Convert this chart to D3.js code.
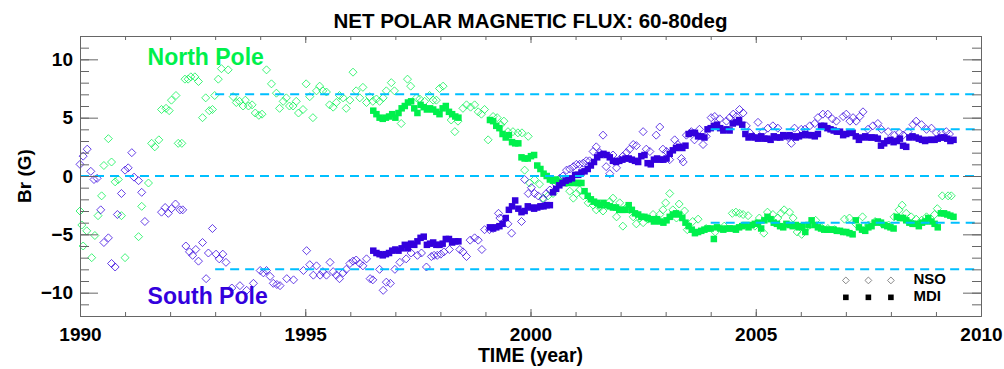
<!DOCTYPE html>
<html>
<head>
<meta charset="utf-8">
<script src="https://cdn.jsdelivr.net/npm/d3@7"></script>
<style>
  body { margin: 0; background: #fff; }
  svg text { font-family: "Liberation Sans", Arial, Helvetica, sans-serif; font-weight: bold; }
</style>
</head>
<body>
<div id="chart"></div>
<script>
// NSO (open diamonds): [year, Br]
const nsoNorth = [
  [1990.00,-3.0],[1990.04,-4.2],[1990.07,-6.0],[1990.15,-4.7],[1990.26,-7.0],[1990.33,-5.1],[1990.40,-3.4],[1990.48,-1.7],[1990.53,0.9],[1990.63,3.2],[1990.70,1.2],[1990.78,-0.5],[1990.85,-0.3],[1990.92,-3.4],
  [1991.00,-7.0],[1991.30,-5.2],[1991.37,-2.6],[1991.52,-0.6],[1991.59,2.8],[1991.66,2.5],[1991.75,3.1],[1991.81,5.7],[1991.91,5.8],[1991.98,5.6],
  [1992.03,6.5],[1992.13,6.9],[1992.18,2.8],[1992.26,2.8],[1992.33,8.3],[1992.40,8.3],[1992.46,8.5],[1992.55,8.5],[1992.63,8.1],[1992.72,5.0],[1992.79,6.7],[1992.87,5.6],[1992.94,5.7],[1992.99,6.9],
  [1993.07,8.3],[1993.14,9.2],[1993.29,9.1],[1993.40,6.8],[1993.47,6.3],[1993.54,6.4],[1993.62,6.0],[1993.67,6.5],[1993.74,6.0],[1993.82,6.1],[1993.89,5.4],[1993.97,5.2],
  [1994.04,5.3],[1994.14,9.1],[1994.25,7.9],[1994.36,7.1],[1994.43,5.8],[1994.51,6.4],[1994.58,6.7],[1994.65,6.0],[1994.73,6.0],[1994.80,6.4],[1994.85,5.4],[1994.95,5.7],
  [1995.02,7.9],[1995.10,6.8],[1995.17,5.0],[1995.25,7.3],[1995.32,7.7],[1995.39,7.3],[1995.47,7.2],[1995.54,6.1],[1995.62,5.9],[1995.69,6.3],[1995.76,6.9],[1995.84,6.7],[1995.91,5.8],[1995.99,6.5],
  [1996.06,8.9],[1996.13,7.3],[1996.21,6.7],[1996.28,7.6],[1996.36,6.3],[1996.43,6.8],[1996.50,6.4],[1996.58,6.6],[1996.65,6.4],[1996.73,6.7],[1996.80,7.3],[1996.91,8.0],[1996.98,7.3],
  [1997.13,4.5],[1997.27,8.3],[1997.34,7.7],[1997.47,6.7],[1997.54,6.6],[1997.65,6.4],[1997.76,6.9],[1997.84,6.5],[1997.91,6.5],[1997.98,7.5],
  [1998.06,7.7],[1998.24,4.8],[1998.32,3.8],[1998.39,4.7],[1998.50,5.8],[1998.58,6.1],[1998.67,5.9],[1998.76,6.1],[1998.84,5.5],[1998.91,5.3],[1998.98,5.7],
  [1999.06,3.1],[1999.17,5.1],[1999.26,5.0],[1999.34,4.4],[1999.41,4.7],[1999.50,3.8],[1999.61,3.8],[1999.72,3.7],[1999.81,3.7],[1999.87,0.5],[1999.95,3.4],[1999.98,-0.6],
  [2000.09,-0.3],[2000.20,-0.7],[2000.28,-1.9],[2000.39,-1.7],[2000.50,-1.5],[2000.61,-0.6],[2000.72,-0.3],[2000.80,-0.6],[2000.87,-1.3],[2000.95,-1.9],
  [2001.02,-1.5],[2001.09,-1.2],[2001.17,-1.7],[2001.28,-2.3],[2001.39,-2.5],[2001.46,-2.9],[2001.54,-2.7],[2001.61,-3.0],[2001.76,-2.2],[2001.83,-1.9],[2001.91,-3.5],[2001.98,-2.3],
  [2002.05,-4.3],[2002.13,-2.7],[2002.20,-2.9],[2002.28,-3.5],[2002.35,-4.1],[2002.42,-3.6],[2002.50,-4.0],[2002.61,-3.7],[2002.72,-3.3],[2002.79,-3.7],[2002.87,-3.3],[2002.94,-2.9],
  [2003.00,-2.3],[2003.09,-1.5],[2003.16,-2.9],[2003.24,-3.6],[2003.30,-2.4],[2003.42,-3.0],[2003.48,-4.6],[2003.60,-3.9],[2003.72,-3.7],[2003.90,-4.5],
  [2004.10,-4.8],[2004.30,-4.3],[2004.48,-3.2],[2004.56,-3.1],[2004.64,-3.2],[2004.72,-3.3],[2004.83,-3.4],[2004.98,-4.3],
  [2005.08,-3.6],[2005.18,-4.9],[2005.26,-3.1],[2005.38,-3.3],[2005.49,-3.6],[2005.56,-3.2],[2005.63,-2.9],[2005.75,-3.1],[2005.83,-3.6],[2005.92,-4.8],
  [2006.02,-5.0],[2006.09,-4.6],[2006.20,-4.2],[2006.33,-3.8],[2006.45,-4.4],[2006.60,-4.5],[2006.75,-4.6],[2006.97,-3.7],
  [2007.08,-3.6],[2007.22,-4.1],[2007.37,-3.5],[2007.50,-4.2],[2007.65,-3.9],[2007.80,-4.1],[2007.95,-4.2],
  [2008.07,-3.5],[2008.18,-2.9],[2008.25,-2.5],[2008.34,-3.2],[2008.45,-3.5],[2008.56,-3.7],[2008.68,-3.8],[2008.79,-3.5],[2008.97,-3.3],
  [2009.03,-2.8],[2009.14,-1.7],[2009.27,-1.7],[2009.34,-1.7]
];

const nsoSouth = [
  [1990.00,1.0],[1990.07,1.7],[1990.16,2.3],[1990.24,0.4],[1990.31,-0.3],[1990.38,-0.2],[1990.46,-2.9],[1990.53,-5.7],[1990.63,-5.3],[1990.70,-7.5],[1990.78,-7.8],[1990.83,-3.3],[1990.92,-1.5],
  [1991.00,0.5],[1991.07,0.7],[1991.15,2.0],[1991.20,-0.1],[1991.30,-0.4],[1991.37,-1.4],[1991.44,-3.9],[1991.81,-3.1],[1991.89,-2.7],[1991.96,-3.2],
  [1992.03,-2.8],[1992.12,-2.4],[1992.22,-2.9],[1992.28,-2.9],[1992.35,-6.0],[1992.43,-6.5],[1992.50,-6.8],[1992.57,-6.3],[1992.63,-7.3],[1992.72,-5.7],[1992.80,-8.8],[1992.85,-6.6],[1992.94,-4.5],
  [1993.02,-6.7],[1993.09,-7.1],[1993.17,-6.7],[1993.24,-7.4],[1993.37,-9.6],[1993.55,-9.4],[1993.70,-9.8],[1993.85,-9.2],
  [1994.00,-8.1],[1994.07,-8.3],[1994.14,-8.1],[1994.22,-8.6],[1994.29,-9.2],[1994.37,-9.3],[1994.44,-9.4],[1994.59,-8.8],[1994.74,-8.9],[1994.96,-8.1],
  [1995.03,-6.4],[1995.10,-7.6],[1995.18,-8.5],[1995.25,-7.7],[1995.33,-8.5],[1995.39,-8.2],[1995.47,-8.5],[1995.55,-7.4],[1995.62,-8.2],[1995.69,-8.5],[1995.76,-8.8],[1995.84,-8.3],[1995.91,-8.0],[1995.99,-7.5],
  [1996.06,-7.3],[1996.13,-7.2],[1996.21,-7.5],[1996.28,-7.7],[1996.36,-7.1],[1996.44,-8.8],[1996.50,-8.9],[1996.65,-8.0],[1996.73,-9.8],[1996.80,-9.1],[1996.89,-9.2],[1996.99,-8.0],
  [1997.10,-7.4],[1997.24,-7.1],[1997.35,-6.6],[1997.49,-6.8],[1997.58,-6.6],[1997.69,-7.8],[1997.80,-6.9],[1997.86,-6.8],[1997.93,-6.8],
  [1998.01,-6.7],[1998.08,-6.5],[1998.20,-6.3],[1998.43,-6.3],[1998.50,-6.5],[1998.58,-6.9],[1998.66,-5.5],[1998.76,-5.3],[1998.84,-5.5],[1998.92,-6.3],[1998.98,-4.6],
  [1999.09,-4.6],[1999.17,-4.5],[1999.29,-3.2],[1999.32,-3.6],[1999.50,-4.1],[1999.58,-4.9],[1999.80,-3.9],[1999.87,-0.3],[1999.95,-1.5],
  [2000.02,-1.0],[2000.09,-1.5],[2000.17,-1.7],[2000.28,-2.0],[2000.35,-1.5],[2000.43,-1.2],[2000.54,-0.6],[2000.65,-0.2],[2000.72,0.0],[2000.80,0.5],[2000.87,0.6],[2000.95,0.8],
  [2001.02,1.0],[2001.09,1.0],[2001.17,1.1],[2001.24,1.3],[2001.31,1.3],[2001.39,2.1],[2001.46,2.5],[2001.54,2.0],[2001.61,3.5],[2001.68,0.8],[2001.76,0.2],[2001.83,1.8],[2001.91,0.7],[2001.98,1.4],
  [2002.05,1.7],[2002.13,2.0],[2002.20,2.3],[2002.28,2.7],[2002.35,2.6],[2002.50,3.8],[2002.57,2.3],[2002.65,2.1],[2002.79,3.5],[2002.87,4.2],[2002.94,2.3],
  [2003.02,2.1],[2003.09,1.4],[2003.20,3.1],[2003.27,2.7],[2003.35,1.5],[2003.39,1.2],[2003.46,3.5],[2003.57,3.8],[2003.64,3.1],[2003.75,4.0],[2003.83,2.7],[2003.90,3.4],
  [2004.01,5.0],[2004.09,5.1],[2004.20,4.9],[2004.35,4.7],[2004.42,5.0],[2004.50,5.3],[2004.57,5.1],[2004.64,5.7],[2004.72,5.4],[2004.79,4.3],[2004.87,3.7],[2004.94,3.4],
  [2005.05,4.6],[2005.16,3.8],[2005.27,4.1],[2005.38,4.3],[2005.49,4.1],[2005.61,3.4],[2005.72,3.3],[2005.79,2.8],[2005.86,4.1],
  [2006.01,4.0],[2006.09,4.0],[2006.20,4.3],[2006.31,4.5],[2006.38,5.0],[2006.49,5.3],[2006.60,5.3],[2006.70,4.9],[2006.79,4.7],[2006.94,5.1],
  [2007.01,5.3],[2007.09,4.7],[2007.16,5.0],[2007.23,4.7],[2007.31,5.1],[2007.38,5.5],[2007.49,4.0],[2007.60,4.3],[2007.71,4.5],[2007.79,4.0],[2007.94,3.8],
  [2008.08,3.5],[2008.19,3.7],[2008.27,3.5],[2008.38,3.8],[2008.49,4.4],[2008.56,4.7],[2008.68,4.4],[2008.79,4.0],[2008.90,4.1],
  [2009.01,3.7],[2009.12,3.7],[2009.23,3.8],[2009.30,3.6]
];

// MDI (filled squares), same time grid for both poles
const mdiYears = [
  1996.51,1996.58,1996.65,1996.72,1996.79,1996.86,1996.93,
  1997.00,1997.07,1997.14,1997.21,1997.28,1997.35,1997.42,1997.49,1997.56,1997.63,1997.70,1997.77,1997.84,1997.91,1997.98,
  1998.05,1998.12,1998.19,1998.26,1998.33,1998.40,
  1999.10,1999.17,1999.24,1999.31,1999.38,1999.45,1999.52,1999.59,1999.66,1999.73,1999.80,1999.87,1999.94,
  2000.01,2000.08,2000.15,2000.22,2000.29,2000.36,2000.43,2000.50,2000.57,2000.64,2000.71,2000.78,2000.85,2000.92,2000.99,
  2001.06,2001.13,2001.20,2001.27,2001.34,2001.41,2001.48,2001.55,2001.62,2001.69,2001.76,2001.83,2001.90,2001.97,
  2002.04,2002.11,2002.18,2002.25,2002.32,2002.39,2002.46,2002.53,2002.60,2002.67,2002.74,2002.81,2002.88,2002.95,
  2003.02,2003.09,2003.16,2003.23,2003.30,2003.37,2003.44,2003.51,2003.58,2003.65,2003.72,2003.79,2003.86,2003.93,
  2004.00,2004.07,2004.14,2004.21,2004.28,2004.35,2004.42,2004.49,2004.56,2004.63,2004.70,2004.77,2004.84,2004.91,2004.98,
  2005.05,2005.12,2005.19,2005.26,2005.33,2005.40,2005.47,2005.54,2005.61,2005.68,2005.75,2005.82,2005.89,2005.96,
  2006.03,2006.10,2006.17,2006.24,2006.31,2006.38,2006.45,2006.52,2006.59,2006.66,2006.73,2006.80,2006.87,2006.94,
  2007.01,2007.08,2007.15,2007.22,2007.29,2007.36,2007.43,2007.50,2007.57,2007.64,2007.71,2007.78,2007.85,2007.92,2007.99,
  2008.06,2008.13,2008.20,2008.27,2008.34,2008.41,2008.48,2008.55,2008.62,2008.69,2008.76,2008.83,2008.90,2008.97,
  2009.04,2009.11,2009.18,2009.25,2009.32,2009.39
];

const mdiNorth = [
  5.6,5.3,5.0,4.9,5.0,5.1,5.3,
  5.0,5.4,5.8,6.0,6.3,6.4,5.8,5.4,6.1,5.9,5.7,5.8,5.7,5.5,5.3,
  5.8,6.0,5.5,5.3,5.1,5.0,
  4.8,4.7,4.3,4.1,3.6,3.3,3.5,2.9,2.8,2.8,1.6,1.5,1.5,
  1.7,1.8,0.9,0.6,0.2,0.0,-0.3,-0.4,-0.3,-0.5,-0.6,-0.5,-0.6,-0.5,-0.6,
  -0.6,-0.6,-1.3,-1.7,-2.0,-2.2,-2.3,-2.5,-2.3,-2.5,-2.6,-2.7,-2.7,-2.9,
  -2.9,-2.9,-2.5,-2.9,-3.2,-3.3,-3.5,-3.5,-3.6,-3.7,-3.9,-3.7,-3.9,-4.0,
  -3.8,-3.5,-3.3,-3.2,-3.3,-3.6,-4.0,-4.3,-4.6,-4.9,-4.8,-4.7,-4.6,-4.5,
  -4.5,-5.4,-4.4,-4.5,-4.6,-4.5,-4.5,-4.5,-4.6,-4.4,-4.3,-4.2,-4.4,-4.2,-4.1,
  -4.0,-4.5,-3.8,-3.5,-3.7,-4.0,-4.1,-4.3,-4.4,-4.1,-4.2,-4.3,-4.2,-4.4,
  -4.3,-4.8,-4.2,-3.8,-4.2,-4.4,-4.5,-4.6,-4.6,-4.6,-4.6,-4.7,-4.7,-4.8,
  -4.8,-4.9,-5.0,-3.8,-4.4,-4.6,-4.7,-4.4,-4.3,-4.0,-3.9,-4.0,-4.2,-4.3,-4.4,
  -4.5,-3.5,-3.6,-3.6,-3.8,-4.0,-4.1,-4.1,-4.3,-4.0,-3.9,-3.6,-3.9,-4.1,
  -4.4,-3.2,-3.2,-3.3,-3.4,-3.5
];

const mdiSouth = [
  -6.4,-6.6,-6.7,-6.8,-6.7,-6.6,-6.4,
  -6.3,-6.4,-6.2,-5.9,-6.2,-5.8,-5.9,-5.6,-5.3,-5.2,-5.9,-5.8,-5.7,-5.9,-5.9,
  -5.8,-5.4,-5.4,-5.7,-5.6,-5.6,
  -4.4,-4.5,-4.4,-4.3,-4.1,-3.6,-2.9,-2.6,-2.1,-2.8,-3.1,-3.0,-2.6,
  -2.7,-2.8,-2.7,-2.6,-2.6,-2.5,-2.5,-1.4,-1.1,-0.8,-0.6,-0.4,-0.3,-0.2,0.1,
  0.1,0.3,0.4,0.6,0.9,1.2,1.6,1.8,1.9,1.8,1.6,1.3,1.2,1.3,
  1.4,1.5,1.5,1.4,1.3,1.2,1.7,1.8,1.1,1.0,1.4,1.5,1.4,1.4,
  1.5,1.9,2.2,2.4,2.5,2.4,2.6,3.6,3.7,3.7,3.4,3.4,3.3,4.0,
  4.1,4.3,4.4,4.1,3.9,4.0,3.9,4.5,4.6,4.8,4.4,3.6,3.3,3.4,3.3,
  3.2,3.4,3.2,3.2,3.1,3.4,3.3,3.3,3.5,3.4,3.5,3.4,3.3,3.4,
  3.5,3.6,3.5,3.5,3.4,3.6,4.3,4.3,4.1,4.0,3.9,3.8,3.8,3.5,
  3.6,3.7,3.7,3.4,3.1,3.3,3.4,3.3,3.3,3.3,3.2,2.6,2.8,3.0,3.1,
  2.9,3.0,3.2,2.6,2.5,3.3,3.4,3.3,3.2,3.1,3.0,3.1,3.1,3.1,
  3.2,3.3,3.3,3.2,3.0,3.1
];

// dashed reference levels
const refLevels = [7, 0, -8, 4, -4];
const refStarts = [1993, 1990, 1993, 2004, 2004];

const yearMajor = [1990, 1995, 2000, 2005, 2010];
const brMajor = [-10, -5, 0, 5, 10];
const legendNames = ['NSO', 'MDI'];
const legendLevels = [-8.95, -10.4];
const legendYears = [2007, 2007.5, 2008];

(function(){

    const width = 1004;
    const height = 369;
    const margin = {top: 36, right: 23, bottom: 53, left: 80};

    const green = '#00f04c';
    const blue = '#3300dd';
    const frame = '#666';

    const svg = d3.select('#chart')
        .append('svg')
        .attr('width', width)
        .attr('height', height);

    const x = d3.scaleLinear().domain([1990, 2010]).range([margin.left, width - margin.right]);
    const y = d3.scaleLinear().domain([-12, 12]).range([height - margin.bottom, margin.top]);

    const diamond = r => `M0,${-r}L${r},0L0,${r}L${-r},0Z`;

    // NSO diamonds
    function diamonds(data, color){
        svg.append('g')
            .selectAll('path')
            .data(data)
            .enter().append('path')
            .attr('d', diamond(4))
            .attr('transform', d => `translate(${x(d[0])},${y(d[1])})`)
            .attr('fill', 'none')
            .attr('stroke', color)
            .attr('stroke-opacity', 0.75)
            .attr('stroke-width', 1)
    }
    diamonds(nsoNorth, green);
    diamonds(nsoSouth, blue);

    // MDI squares
    function squares(values, color){
        const s = 6.5;
        svg.append('g')
            .selectAll('rect')
            .data(values)
            .enter().append('rect')
            .attr('x', (d, i) => x(mdiYears[i]) - s/2)
            .attr('y', d => y(d) - s/2)
            .attr('width', s)
            .attr('height', s)
            .attr('fill', color)
    }
    squares(mdiNorth, green);
    squares(mdiSouth, blue);

    // reference lines
    svg.append('g')
        .selectAll('line')
        .data(refLevels)
        .enter().append('line')
        .attr('x1', (d, i) => x(refStarts[i]))
        .attr('x2', x(2010) - 2)
        .attr('y1', d => y(d))
        .attr('y2', d => y(d))
        .attr('stroke', '#00bfff')
        .attr('stroke-width', 2)
        .attr('stroke-dasharray', '9,6')

    // axes, IDL style ticks pointing inward on all four sides
    function styleAxis(g, fontSize){
        g.selectAll('.domain').attr('stroke', frame);
        g.selectAll('.tick line').attr('stroke', frame);
        g.selectAll('text').attr('fill', '#000').style('font-size', fontSize + 'px');
    }
    const bottom = y.range()[0], top = y.range()[1];
    const left = x.range()[0], right = x.range()[1];

    svg.append('g').attr('transform', `translate(0,${bottom})`)
        .call(d3.axisBottom(x).tickValues(d3.range(1990, 2011)).tickSize(-4).tickSizeOuter(0).tickFormat(''))
        .call(g => styleAxis(g, 19));
    svg.append('g').attr('transform', `translate(0,${bottom})`)
        .call(d3.axisBottom(x).tickValues(yearMajor).tickSize(-7).tickSizeOuter(0).tickPadding(12).tickFormat(d3.format('d')))
        .call(g => styleAxis(g, 19));
    svg.append('g').attr('transform', `translate(0,${top})`)
        .call(d3.axisTop(x).tickValues(d3.range(1990, 2011)).tickSize(-4).tickSizeOuter(0).tickFormat(''))
        .call(g => styleAxis(g, 19));
    svg.append('g').attr('transform', `translate(0,${top})`)
        .call(d3.axisTop(x).tickValues(yearMajor).tickSize(-7).tickSizeOuter(0).tickFormat(''))
        .call(g => styleAxis(g, 19));

    svg.append('g').attr('transform', `translate(${left},0)`)
        .call(d3.axisLeft(y).tickValues(d3.range(-12, 13)).tickSize(-9).tickSizeOuter(0).tickFormat(''))
        .call(g => styleAxis(g, 19));
    svg.append('g').attr('transform', `translate(${left},0)`)
        .call(d3.axisLeft(y).tickValues(brMajor).tickSize(-18).tickSizeOuter(0).tickPadding(7).tickFormat(d3.format('d')))
        .call(g => styleAxis(g, 19));
    svg.append('g').attr('transform', `translate(${right},0)`)
        .call(d3.axisRight(y).tickValues(d3.range(-12, 13)).tickSize(-9).tickSizeOuter(0).tickFormat(''))
        .call(g => styleAxis(g, 19));
    svg.append('g').attr('transform', `translate(${right},0)`)
        .call(d3.axisRight(y).tickValues(brMajor).tickSize(-18).tickSizeOuter(0).tickFormat(''))
        .call(g => styleAxis(g, 19));

    // titles
    svg.append('text')
        .attr('x', (left + right) / 2)
        .attr('y', 27.5)
        .attr('text-anchor', 'middle')
        .style('font-size', '20.5px')
        .text('NET POLAR MAGNETIC FLUX: 60-80deg')

    svg.append('text')
        .attr('x', (left + right) / 2)
        .attr('y', 361.5)
        .attr('text-anchor', 'middle')
        .style('font-size', '19.5px')
        .text('TIME (year)')

    svg.append('text')
        .attr('transform', `translate(31,${y(0)}) rotate(-90)`)
        .attr('text-anchor', 'middle')
        .style('font-size', '19px')
        .text('Br (G)')

    // pole labels
    svg.append('text')
        .attr('x', x(1991.5))
        .attr('y', y(9.5))
        .attr('fill', green)
        .style('font-size', '23px')
        .text('North Pole')

    svg.append('text')
        .attr('x', x(1991.5))
        .attr('y', y(-11.0))
        .attr('fill', blue)
        .style('font-size', '23px')
        .text('South Pole')

    // legend
    const legend = svg.append('g');
    legend.selectAll('path')
        .data(legendYears)
        .enter().append('path')
        .attr('d', diamond(3.4))
        .attr('transform', d => `translate(${x(d)},${y(legendLevels[0])})`)
        .attr('fill', 'none')
        .attr('stroke', '#888')
        .attr('stroke-width', 1)
    legend.selectAll('rect')
        .data(legendYears)
        .enter().append('rect')
        .attr('x', d => x(d) - 2.8)
        .attr('y', y(legendLevels[1]) - 2.8)
        .attr('width', 5.6)
        .attr('height', 5.6)
        .attr('fill', '#000')
    legend.selectAll('text')
        .data(legendNames)
        .enter().append('text')
        .attr('x', x(2008.5))
        .attr('y', (d, i) => y(legendLevels[i]) + (i ? 3.8 : 4))
        .style('font-size', '15px')
        .text(d => d)

}());
</script>
</body>
</html>
